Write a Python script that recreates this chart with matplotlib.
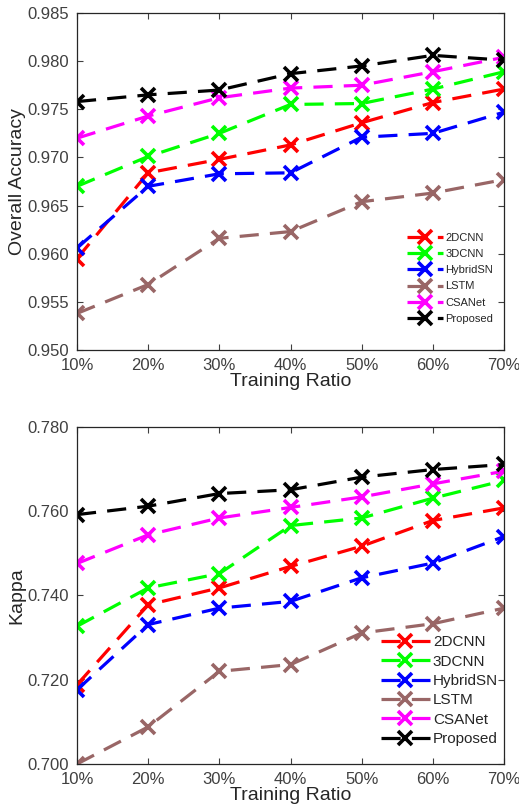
import numpy as np
import matplotlib.pyplot as plt

plt.rcParams.update({
    "font.family": ["Liberation Sans", "DejaVu Sans"],
    "xtick.direction": "in",
    "ytick.direction": "in",
})

ratios = ["10%", "20%", "30%", "40%", "50%", "60%", "70%"]
methods = ["2DCNN", "3DCNN", "HybridSN", "LSTM", "CSANet", "Proposed"]
colors = ["#ff0000", "#00ff00", "#0000ff", "#996666", "#ff00ff", "#000000"]

# Overall accuracy (top panel)
oa_2dcnn = [0.9595, 0.9684, 0.9698, 0.9713, 0.9736, 0.9757, 0.9771]
oa_3dcnn = [0.9670, 0.9701, 0.9725, 0.9755, 0.9756, 0.9771, 0.9789]
oa_hybrid = [0.9606, 0.9670, 0.9683, 0.9684, 0.9721, 0.9725, 0.9747]
oa_lstm = [0.9538, 0.9568, 0.9616, 0.9623, 0.9654, 0.9663, 0.9677]
oa_csanet = [0.9720, 0.9743, 0.9762, 0.9772, 0.9775, 0.9789, 0.9804]
oa_proposed = [0.9758, 0.9765, 0.9770, 0.9787, 0.9795, 0.9806, 0.9801]

# Kappa (bottom panel)
k_2dcnn = [0.7188, 0.7378, 0.7418, 0.7469, 0.7517, 0.7578, 0.7608]
k_3dcnn = [0.7327, 0.7418, 0.7452, 0.7566, 0.7584, 0.7631, 0.7673]
k_hybrid = [0.7176, 0.7331, 0.7370, 0.7386, 0.7442, 0.7477, 0.7540]
k_lstm = [0.7000, 0.7088, 0.7220, 0.7236, 0.7311, 0.7333, 0.7370]
k_csanet = [0.7476, 0.7544, 0.7584, 0.7609, 0.7634, 0.7665, 0.7695]
k_proposed = [0.7592, 0.7612, 0.7642, 0.7651, 0.7681, 0.7699, 0.7711]

oa_series = [oa_2dcnn, oa_3dcnn, oa_hybrid, oa_lstm, oa_csanet, oa_proposed]
k_series = [k_2dcnn, k_3dcnn, k_hybrid, k_lstm, k_csanet, k_proposed]

fig = plt.figure(figsize=(5.19, 8.09), dpi=100)
W, H = 519, 809
ax1 = fig.add_axes([77 / W, 1 - 350 / H, 427 / W, 337 / H])
ax2 = fig.add_axes([77 / W, 1 - 764 / H, 427 / W, 337 / H])

x = np.arange(len(ratios))
tick_col = "#404040"


def draw(ax, series, ylim, yticks, ylabel, leg_fs, leg_space, leg_anchor):
    for name, vals, c in zip(methods, series, colors):
        ax.plot(x, vals, linestyle=(0, (6, 3.5)), color=c, lw=2.3,
                marker="x", ms=10, mew=2.6, label=name)
    ax.set_xlim(0, len(ratios) - 1)
    ax.set_ylim(*ylim)
    ax.set_xticks(x)
    ax.set_xticklabels(ratios)
    ax.set_yticks(yticks)
    ax.set_yticklabels([f"{v:.3f}" for v in yticks])
    ax.tick_params(axis="both", labelsize=12, colors=tick_col,
                   top=True, right=True, length=4, width=0.8, pad=6)
    for s in ax.spines.values():
        s.set_color("#262626")
        s.set_linewidth(0.9)
    ax.set_xlabel("Training Ratio", fontsize=14, color="#262626", labelpad=0)
    ax.set_ylabel(ylabel, fontsize=14, color="#262626", labelpad=1)
    leg = ax.legend(loc="lower right", bbox_to_anchor=leg_anchor,
                    frameon=False, fontsize=leg_fs,
                    handlelength=3.2, handletextpad=0.2,
                    labelspacing=leg_space, borderaxespad=0.0)
    for t in leg.get_texts():
        t.set_color("#262626")


draw(ax1, oa_series, (0.950, 0.985), np.arange(0.950, 0.9851, 0.005),
     "Overall Accuracy", 8, 0.55, (0.985, 0.065))
draw(ax2, k_series, (0.700, 0.780), np.arange(0.700, 0.7801, 0.020),
     "Kappa", 11, 0.35, (1.0, 0.035))

fig.savefig("out.png", dpi=100)
